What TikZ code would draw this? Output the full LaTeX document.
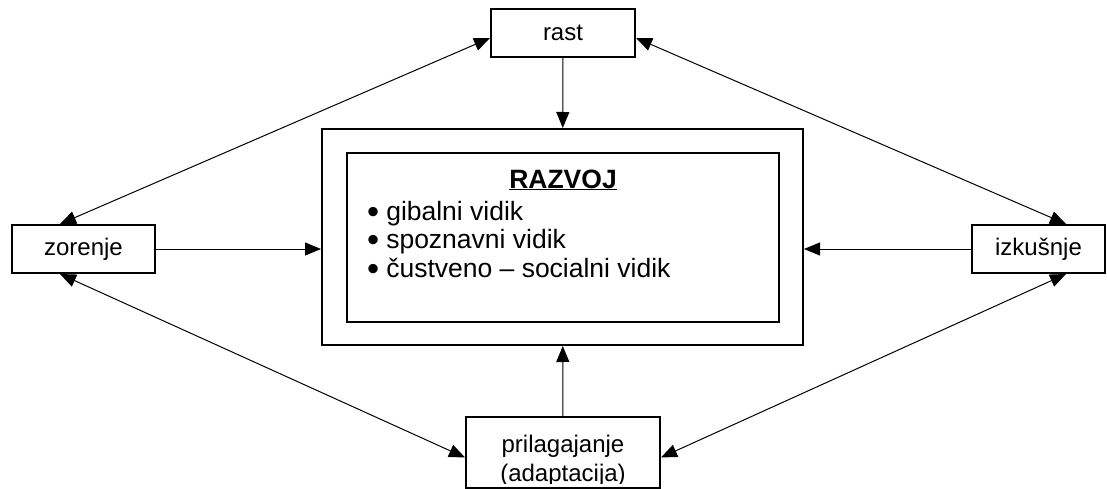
\documentclass[tikz,border=0pt]{standalone}
\usepackage{fontspec}
\setmainfont{Liberation Sans}
\usepackage{tikz}
\usetikzlibrary{arrows.meta, positioning}

\newcommand{\dotmark}{\smash{\raisebox{-3pt}{\scalebox{1.3}{\textbullet}}}\hspace{7pt}}

\begin{document}
\begin{tikzpicture}[
	x=1pt, y=-1pt,
	font=\fontsize{24}{29}\selectfont,
	box/.style={
		rectangle,
		draw=black,
		line width=2pt,
		inner sep=0pt,
		align=center
	},
	big/.style={
		inner sep=0pt,
		font=\fontsize{26.5}{28.5}\selectfont
	},
	link/.style={
		line width=1pt,
		-{Triangle[length=16pt, width=13pt]}
	},
	both/.style={
		line width=1pt,
		{Triangle[length=16pt, width=13pt]}-{Triangle[length=16pt, width=13pt]}
	}
	]
	
	\useasboundingbox (0,0) rectangle (1107,489);
	\clip (0,0) rectangle (1107,489);
	
	% Centre
	\node[box, minimum width=481pt, minimum height=216pt] (outer) at (562.5,237) {};
	\node[box, minimum width=432pt, minimum height=169pt] (inner) at (563,237.5) {};
	\node[big, anchor=base] (title) at (563,188) {\bfseries\underline{RAZVOJ}};
	\node[big, anchor=base west, align=left] (list) at (367,277)
	{\dotmark gibalni vidik\\
	 \dotmark spoznavni vidik\\
	 \dotmark čustveno – socialni vidik};
	
	% Outer boxes
	\node[box, minimum width=144pt, minimum height=48pt] (rast) at (563,33) {rast};
	\node[box, minimum width=143pt, minimum height=48pt] (zorenje) at (83.5,249) {zorenje};
	\node[box, minimum width=133pt, minimum height=48pt] (izkusnje) at (1038.5,249) {izkušnje};
	\node[box, minimum width=194pt, minimum height=71pt] (prilag) at (563,452.5) {};
	\begin{scope}
		\clip (prilag.north west) rectangle ([yshift=6pt]prilag.south east);
		\node[anchor=base, inner sep=0pt, align=center] (prilagtext) at (563,481)
		{prilagajanje\\ (adaptacija)};
	\end{scope}
	
	% Arrows to the centre
	\draw[link] (rast) -- (outer);
	\draw[link] (zorenje) -- (zorenje -| outer.west);
	\draw[link] (izkusnje) -- (izkusnje -| outer.east);
	\draw[link] (prilag) -- (outer);
	
	% Arrows round the outside
	\draw[both] ([yshift=-5pt]rast.west) -- ([xshift=-23.5pt]zorenje.north);
	\draw[both] ([yshift=-5pt]rast.east) -- ([xshift=27.5pt]izkusnje.north);
	\draw[both] ([xshift=-23.5pt]zorenje.south) -- ([yshift=-5pt]prilag.west);
	\draw[both] ([xshift=27.5pt]izkusnje.south) -- ([yshift=-5pt]prilag.east);
	
\end{tikzpicture}
\end{document}
